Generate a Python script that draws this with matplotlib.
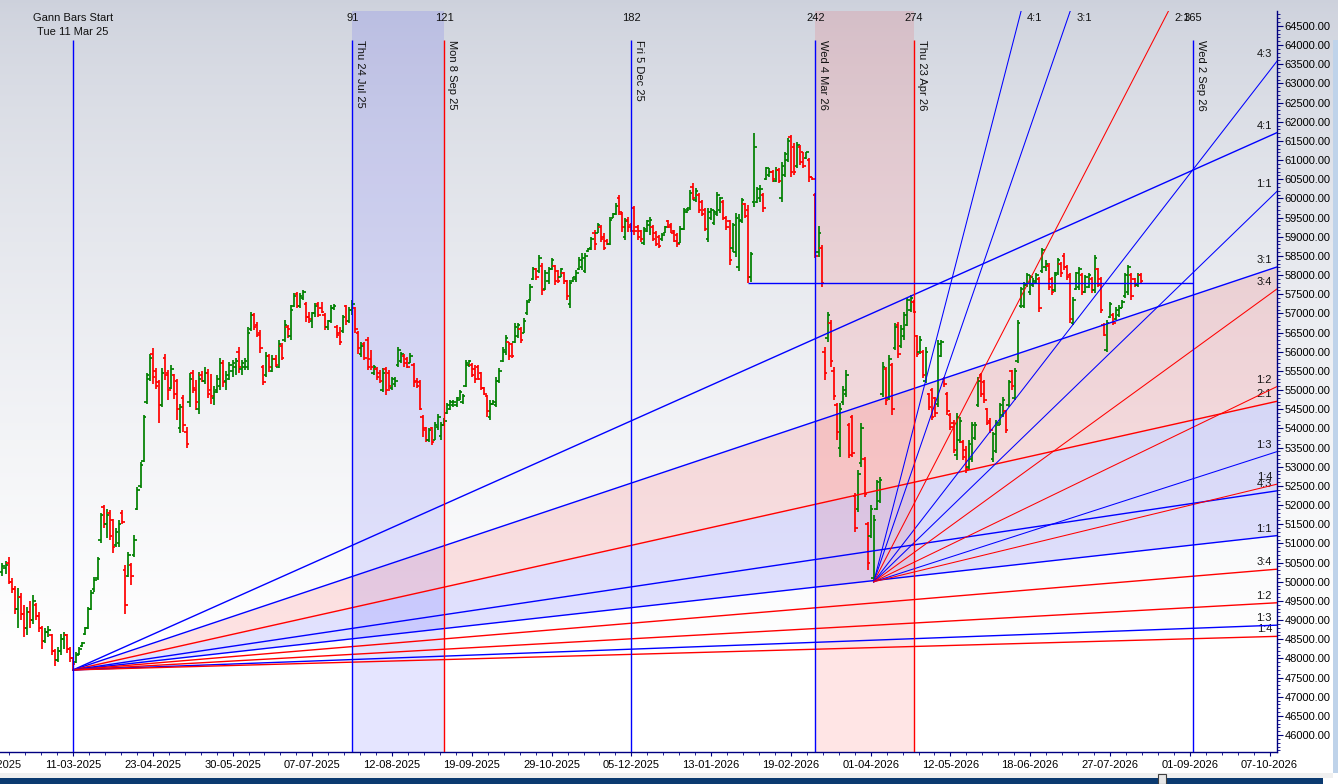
import numpy as np
import matplotlib
matplotlib.use("Agg")
import matplotlib.pyplot as plt
from matplotlib.collections import LineCollection
from matplotlib.patches import Rectangle
from matplotlib.ticker import FixedLocator, MultipleLocator, FormatStrFormatter

plt.rcParams["font.family"] = ["Liberation Sans", "DejaVu Sans"]
plt.rcParams["font.size"] = 8
plt.rcParams["text.color"] = "#111111"

BLUE = "#0000ff"
RED = "#ff0000"
GREEN = "#008000"
NAVY = "#000080"

# ---- price bars, one value per trading bar, first bar is index -23 ----
first_bar = -23
opens = [
    50250, 50350, 50500, 50000, 49800, 49300, 49600, 49150, 48800, 49200, 49000, 49400,
    49100, 48800, 48450, 48700, 48600, 48200, 47950, 48200, 48500, 48600, 48250, 48000,
    47900, 48120, 48320, 48650, 48800, 49300, 49800, 50100, 51100, 51950,
    51500, 51800, 51600, 50950, 51000, 51800, 50300, 50150, 50450, 50700,
    51900, 52500, 53150, 54700, 55300, 55950, 55500, 55200, 54600, 55850,
    55450, 55050, 55400, 55250, 54000, 54800, 53900, 54700, 55450, 55000,
    54500, 55400, 55250, 55450, 55000, 54800, 55000, 55100, 55700, 55250,
    55300, 55500, 55600, 56000, 55550, 55600, 55600, 56600, 56950, 56700,
    56500, 55600, 55400, 55900, 55500, 55800, 55600, 56150, 56300, 56650,
    56400, 57200, 57500, 57200, 57400, 57250, 56900, 56800, 57000, 57250,
    57150, 56950, 56650, 56800, 57150, 56650, 56500, 56550, 57200, 56800,
    57100, 57150, 56500, 55950, 56200, 56300, 55800, 55450, 55550, 55450,
    55000, 55550, 55450, 55050, 55150, 55650, 55750, 55900, 55800, 55700,
    55650, 55250, 55200, 54300, 54000, 53700, 54000, 53700, 54050, 53800,
    54100, 54400, 54500, 54600, 54600, 54750, 54700, 55100, 55650, 55650,
    55550, 55600, 55450, 55050, 54850, 54300, 54650, 54600, 55250, 55750,
    56000, 56250, 56200, 56250, 56400, 56600, 56500, 57000, 57350, 57900,
    58150, 58100, 58250, 57650, 57850, 58150, 58250, 58100, 57950, 58050,
    57850, 57250, 57850, 57900, 58150, 58200, 58100, 58620, 58700, 59100,
    59100, 59250, 59000, 58900, 58800, 59500, 59600, 60000, 59600, 59000,
    59450, 59300, 59750, 59250, 59150, 58850, 59150, 59300, 59250, 59100,
    59000, 58950, 59100, 59400, 59300, 59150, 59050, 58850, 59200, 59650,
    59750, 60300, 59950, 60100, 59900, 59700, 58950, 59500, 59350, 59600,
    59700, 59900, 59500, 59400, 58700, 58600, 58200, 59400, 59850, 59700,
    57950, 59900, 59900, 60000, 60100, 60500, 60600, 60700, 60450, 60750,
    60000, 60600, 61000, 61600, 61350, 60850, 61350, 61200, 61050, 61000,
    60550, 60100, 58600, 58700, 56000, 56350, 56750, 55500, 54600, 53500,
    54700, 54900, 54100, 54300, 52250, 51900, 53100, 53200, 51500, 51200,
    50100, 51900, 52100, 54900, 55550, 54800, 55650, 56100, 56700, 56150,
    56400, 56700, 57100, 57300, 56400, 56000, 56000, 55250, 54900, 55000,
    54800, 54650, 55900, 55300, 54900, 54350, 54150, 53300, 53700, 53650,
    53450, 53000, 53200, 53750, 54600, 55400, 55200, 54500, 54200, 53200,
    53400, 54100, 54350, 54450, 54600, 55500, 54800, 55750, 57200, 57200,
    57750, 57550, 57750, 57800, 57900, 58100, 58200, 58250, 57900, 57600,
    58050, 58300, 58500, 58200, 58000, 56750, 57650, 57700, 58000, 57550,
    57700, 57900, 57600, 58150, 57900, 56700, 56050, 56900, 56950, 56850,
    56950, 57150, 57450, 57550, 58000, 57900, 57750, 58000,
]
highs = [
    50500, 50550, 50650, 50100, 49900, 49850, 49700, 49400, 49350, 49500, 49650, 49450,
    49200, 48850, 48800, 48850, 48650, 48250, 48300, 48650, 48700, 48650, 48300, 48050,
    48175, 48300, 48430, 48820, 49350, 49780, 50130, 50650, 51800, 52000,
    51900, 51870, 51650, 51390, 51600, 51870, 50430, 50780, 50500, 51220,
    52480, 53130, 54350, 55440, 55950, 56100, 55570, 55260, 55570, 55940,
    55520, 55650, 55430, 55300, 54650, 54870, 54040, 55440, 55520, 55260,
    55480, 55500, 55600, 55540, 55430, 55100, 55390, 55830, 55780, 55500,
    55740, 55780, 55830, 56130, 55780, 55830, 56650, 57050, 57000, 56780,
    56570, 55650, 56000, 55950, 55910, 55910, 56310, 56220, 56830, 56700,
    57220, 57530, 57570, 57530, 57610, 57300, 57050, 57050, 57260, 57300,
    57300, 57000, 56830, 57220, 57250, 56700, 56650, 56960, 57220, 57180,
    57350, 57180, 56530, 56250, 56260, 56390, 56050, 55650, 55610, 55520,
    55580, 55610, 55520, 55350, 55350, 56130, 56000, 55950, 55870, 55960,
    55700, 55310, 55260, 54350, 54050, 54010, 54050, 54180, 54390, 54180,
    54270, 54660, 54740, 54740, 54830, 55000, 54910, 55790, 55790, 55700,
    55650, 55650, 55480, 55090, 54870, 54740, 54740, 55350, 55570, 56130,
    56440, 56260, 56220, 56740, 56740, 56650, 56870, 57350, 57780, 58220,
    58180, 58520, 58310, 58130, 58220, 58440, 58260, 58130, 58180, 58090,
    57870, 57870, 57960, 58130, 58480, 58570, 58570, 58700, 59000, 59180,
    59350, 59300, 59090, 58940, 59520, 59620, 59870, 60090, 59650, 59480,
    59520, 59350, 59800, 59300, 59180, 59260, 59440, 59520, 59300, 59150,
    59050, 59100, 59270, 59440, 59350, 59180, 59090, 59270, 59740, 59740,
    60220, 60400, 60270, 60140, 59960, 59740, 59740, 59740, 59700, 60180,
    60050, 59960, 59530, 59440, 59350, 59610, 59600, 60000, 59870, 59830,
    58610, 61720, 60310, 60350, 60140, 60830, 60790, 60740, 60830, 60790,
    60960, 61220, 61570, 61660, 61440, 61480, 61400, 61220, 61220, 61050,
    60570, 60140, 59270, 58790, 56130, 57050, 56830, 55610, 54660, 54660,
    55100, 55530, 54130, 54350, 52310, 52920, 54130, 53260, 51570, 52000,
    51740, 52660, 52740, 55740, 55610, 55920, 55700, 56740, 56790, 56700,
    57050, 57400, 57480, 57350, 56440, 56400, 56050, 56130, 54920, 55050,
    54830, 56310, 56310, 55350, 54960, 54400, 54220, 54400, 54310, 53700,
    53530, 53700, 54180, 54180, 55350, 55440, 55260, 54530, 54260, 53920,
    54220, 54660, 54830, 54480, 55260, 55530, 55570, 56830, 57700, 57830,
    58050, 58000, 57920, 58050, 57960, 58700, 58400, 58310, 57960, 58090,
    58440, 58350, 58570, 58270, 58050, 57440, 58090, 58220, 58050, 58000,
    58050, 57960, 58530, 58180, 57960, 56740, 56830, 57310, 57000, 57180,
    57220, 57350, 58050, 58260, 58050, 57920, 58050, 58050,
]
lows = [
    50150, 50200, 49950, 49700, 49150, 48800, 49000, 48550, 48600, 48800, 48900, 49000,
    48700, 48250, 48400, 48550, 48100, 47800, 47900, 48100, 48250, 48150, 47900, 47700,
    47870, 48090, 48300, 48610, 48780, 49260, 49740, 50040, 51000, 51390,
    51150, 51090, 50740, 50920, 50900, 51520, 49170, 50130, 49910, 50650,
    51870, 52440, 53130, 54650, 55250, 55150, 55040, 54130, 54570, 55260,
    54740, 55040, 54780, 54220, 53870, 53920, 53480, 54570, 54920, 54480,
    54390, 55200, 55150, 54790, 54650, 54600, 54920, 55000, 55090, 55000,
    55260, 55350, 55400, 55440, 55400, 55530, 55520, 56550, 56570, 56390,
    55960, 55130, 55350, 55480, 55480, 55610, 55570, 55780, 56260, 56350,
    56300, 57180, 57130, 57150, 57350, 56790, 56740, 56610, 56920, 56920,
    57000, 56570, 56570, 56740, 57100, 56350, 56180, 56500, 56700, 56740,
    56950, 56480, 55950, 55870, 55790, 55520, 55520, 55400, 55260, 55180,
    54960, 54870, 54980, 55000, 55090, 55610, 55700, 55600, 55570, 55700,
    55090, 55050, 54470, 53780, 53650, 53650, 53570, 53700, 53960, 53700,
    54100, 54390, 54480, 54570, 54570, 54740, 54650, 55090, 55610, 55350,
    55180, 55260, 55000, 54870, 54310, 54220, 54600, 54570, 55180, 55740,
    55910, 55790, 55830, 56220, 56350, 56220, 56480, 56960, 57330, 57870,
    57870, 58050, 57480, 57610, 57780, 58130, 57740, 57790, 57940, 57780,
    57350, 57130, 57830, 57830, 58130, 58130, 58050, 58610, 58650, 58650,
    59090, 58870, 58650, 58780, 58790, 59480, 59570, 59570, 59130, 58920,
    59130, 59130, 59050, 58920, 58870, 58790, 59130, 59050, 58900, 58750,
    58700, 58900, 59090, 59220, 59090, 58870, 58740, 58830, 59180, 59610,
    59700, 59960, 59920, 59610, 59530, 59140, 58870, 59440, 59310, 59530,
    59610, 59440, 59180, 58270, 58610, 58480, 58100, 59350, 59480, 57800,
    57830, 59780, 59870, 59920, 59660, 60480, 60570, 60440, 60440, 60400,
    59920, 60570, 60960, 60570, 60610, 60790, 60870, 60790, 61040, 60440,
    60480, 58450, 58480, 57700, 55270, 56260, 55610, 54740, 53700, 53260,
    54600, 54830, 53220, 53260, 51310, 51830, 53000, 52220, 50310, 51130,
    50000, 51870, 52050, 54830, 54610, 54740, 54350, 56050, 55830, 56100,
    56310, 56660, 57050, 57000, 55870, 55950, 55310, 55180, 54480, 54220,
    54310, 54570, 55870, 55090, 54350, 53960, 53350, 53180, 53610, 53180,
    52830, 52920, 53130, 53700, 54570, 54830, 54660, 54090, 53870, 53130,
    53350, 54090, 54310, 53870, 54570, 55000, 54740, 55700, 57130, 57130,
    57700, 57480, 57700, 57790, 57050, 58050, 58100, 57610, 57480, 57570,
    58000, 57960, 58130, 57870, 56740, 56700, 57610, 57610, 57480, 57530,
    57660, 57530, 57530, 57700, 57000, 56400, 56000, 56870, 56700, 56830,
    56920, 57130, 57400, 57480, 57350, 57700, 57700, 57790,
]
closes = [
    50400, 50450, 50000, 49800, 49300, 49600, 49150, 48800, 49200, 49000, 49500, 49100,
    48800, 48450, 48700, 48750, 48200, 47950, 48200, 48500, 48600, 48250, 48000, 47850,
    48100, 48250, 48400, 48800, 49300, 49700, 50050, 50600, 51750, 51500,
    51750, 51200, 50900, 51300, 51500, 51550, 49400, 50700, 50150, 51100,
    52400, 53050, 54300, 55400, 55850, 55350, 55100, 54600, 55450, 55400,
    55000, 55550, 54900, 54500, 54550, 54100, 53600, 55300, 55050, 54700,
    55300, 55250, 55450, 54900, 54850, 54950, 55300, 55700, 55200, 55400,
    55650, 55700, 55750, 55600, 55700, 55750, 56500, 56950, 56650, 56450,
    56100, 55200, 55900, 55600, 55800, 55650, 56200, 55850, 56700, 56600,
    57100, 57450, 57200, 57450, 57550, 56900, 56850, 57000, 57200, 56950,
    57050, 56650, 56800, 57150, 57200, 56450, 56250, 56900, 56800, 57100,
    57250, 56600, 56100, 56150, 55850, 55600, 55600, 55600, 55350, 55250,
    55450, 55000, 55100, 55300, 55250, 56050, 55950, 55700, 55600, 55900,
    55200, 55100, 54500, 53950, 53700, 53950, 53650, 54100, 54300, 54100,
    54200, 54600, 54700, 54700, 54800, 54950, 54850, 55700, 55750, 55400,
    55300, 55300, 55050, 54900, 54450, 54650, 54700, 55250, 55500, 56050,
    56350, 55900, 55900, 56650, 56700, 56300, 56800, 57300, 57700, 58150,
    57950, 58450, 57600, 58050, 58150, 58400, 57850, 57850, 58150, 57850,
    57450, 57800, 57950, 58050, 58400, 58450, 58500, 58680, 58950, 58800,
    59300, 58950, 58700, 58800, 59450, 59600, 59800, 59650, 59250, 59400,
    59250, 59150, 59150, 59000, 58950, 59200, 59400, 59450, 58950, 58800,
    58750, 59050, 59250, 59250, 59100, 58900, 58800, 59200, 59700, 59700,
    60150, 60000, 60200, 59700, 59600, 59200, 59650, 59700, 59650, 60100,
    60000, 59500, 59250, 58400, 59300, 59500, 59450, 59950, 59550, 57950,
    58550, 61350, 60250, 60250, 59750, 60800, 60700, 60500, 60750, 60450,
    60850, 61150, 61500, 60700, 60700, 61400, 60950, 60850, 61200, 60550,
    60500, 58500, 59100, 57800, 55450, 56950, 55750, 54850, 53900, 54500,
    55000, 55400, 53300, 53350, 51400, 52800, 54000, 52300, 50500, 51900,
    51600, 52600, 52650, 55600, 54750, 55800, 54500, 56650, 55950, 56600,
    56950, 57350, 57400, 57050, 55950, 56300, 55400, 56000, 54550, 54300,
    54400, 56200, 56250, 55150, 54450, 54050, 53450, 54300, 54200, 53250,
    52950, 53600, 54100, 54100, 55250, 54900, 54750, 54150, 53950, 53850,
    54150, 54600, 54750, 53950, 55200, 55100, 55500, 56750, 57650, 57750,
    58000, 57950, 57850, 58000, 57150, 58650, 58300, 57700, 57550, 58000,
    58400, 58050, 58200, 57950, 56850, 57350, 58050, 58150, 57550, 57950,
    58000, 57600, 58450, 57750, 57100, 56450, 56750, 57250, 56750, 57100,
    57150, 57300, 58000, 58200, 57450, 57750, 58000, 57850,
]

# ---- time axis labels (every 26 bars) ----
date_ticks = [-26, 0, 26, 52, 78, 104, 130, 156, 182, 208, 234, 260, 286, 312, 338, 364, 390]
date_labels = ["31-01-2025", "11-03-2025", "23-04-2025", "30-05-2025", "07-07-2025",
               "12-08-2025", "19-09-2025", "29-10-2025", "05-12-2025", "13-01-2026",
               "19-02-2026", "01-04-2026", "12-05-2026", "18-06-2026", "27-07-2026",
               "01-09-2026", "07-10-2026"]

# ---- Gann bar counts ----
event_bars = [0, 91, 121, 182, 242, 274, 365]
event_counts = ["", "91", "121", "182", "242", "274", "365"]
event_dates = ["Tue 11 Mar 25", "Thu 24 Jul 25", "Mon 8 Sep 25", "Fri 5 Dec 25",
               "Wed 4 Mar 26", "Thu 23 Apr 26", "Wed 2 Sep 26"]
event_colors = [BLUE, BLUE, RED, BLUE, BLUE, RED, BLUE]
shaded_spans = [(91, 121, BLUE), (242, 274, RED)]

# ---- Gann fans: origin bar, origin price, price per bar of the 1:1 line ----
fan_origins = [(0, 47700, 8.93), (261, 50000, 77.5)]
fan_widths = [1.0, 0.75]
fan_ratios = [4, 3, 2, 4 / 3, 1, 3 / 4, 1 / 2, 1 / 3, 1 / 4]
fan_names = ["4:1", "3:1", "2:1", "4:3", "1:1", "3:4", "1:2", "1:3", "1:4"]
fan_colors = [BLUE, BLUE, RED, BLUE, BLUE, RED, RED, BLUE, RED]

level_price = 57800
level_start, level_end = 220, 365

x_left, x_right = -23.8, 392.44
y_bottom, y_top = 45559, 64891

W, H = 1338, 784
fig = plt.figure(figsize=(W / 100, H / 100), dpi=100)

# gradient background
bg = fig.add_axes([0, 0, 1, 1], zorder=-10)
t = np.clip(np.arange(H) / 650.0, 0, 1) ** 0.7
top_col = np.array([205, 209, 220]) / 255.0
grad = top_col + (1 - top_col) * t[:, None]
bg.imshow(grad[:, None, :], aspect="auto", extent=[0, 1, 0, 1])
bg.axis("off")

ax = fig.add_axes([0, 32 / H, 1277 / W, 741 / H])
ax.set_facecolor("none")
ax.set_xlim(x_left, x_right)
ax.set_ylim(y_bottom, y_top)

for a, b, col in shaded_spans:
    ax.axvspan(a, b, color=col, alpha=0.1, lw=0, zorder=1)

# fan fills (first fan only)
ob, op, unit = fan_origins[0]
xs = np.array([ob, x_right])
ax.fill_between(xs, op + unit * 3 * (xs - ob), op + unit * 2 * (xs - ob),
                color=RED, alpha=0.11, lw=0, zorder=1)
ax.fill_between(xs, op + unit * 2 * (xs - ob), op + unit * 1 * (xs - ob),
                color=BLUE, alpha=0.11, lw=0, zorder=1)

# price bars
n = min(len(opens), len(highs), len(lows), len(closes))
segs, cols = [], []
for i in range(n):
    x = first_bar + i
    col = GREEN if closes[i] >= opens[i] else RED
    segs += [[(x, lows[i]), (x, highs[i])],
             [(x - 0.8, opens[i]), (x, opens[i])],
             [(x, closes[i]), (x + 0.8, closes[i])]]
    cols += [col, col, col]
ax.add_collection(LineCollection(segs, colors=cols, linewidths=1.25, zorder=3))

# bar-count verticals
line_top = y_top - 29 * (y_top - y_bottom) / 741
for bar, cnt, dt, col in zip(event_bars, event_counts, event_dates, event_colors):
    ax.vlines(bar, y_bottom, line_top, color=col, lw=1.0, zorder=5)
    if cnt:
        ax.annotate(cnt, xy=(bar, H - 18), xycoords=("data", "figure pixels"),
                    ha="center", va="center", annotation_clip=False)
        ax.annotate(dt, xy=(bar, H - 40), xycoords=("data", "figure pixels"),
                    xytext=(3, 0), textcoords="offset pixels", rotation=-90,
                    ha="left", va="top", annotation_clip=False)
ax.annotate("Gann Bars Start", xy=(0, H - 18), xycoords=("data", "figure pixels"),
            ha="center", va="center", annotation_clip=False)
ax.annotate(event_dates[0], xy=(0, H - 32), xycoords=("data", "figure pixels"),
            ha="center", va="center", annotation_clip=False)

# fan lines and their labels
for (ob, op, unit), lw in zip(fan_origins, fan_widths):
    for ratio, name, col in zip(fan_ratios, fan_names, fan_colors):
        end = op + unit * ratio * (x_right - ob)
        ax.plot([ob, x_right], [op, end], color=col, lw=lw, zorder=4)
        if end < y_top:
            ax.annotate(name, xy=(x_right, end), xytext=(-5, 2),
                        textcoords="offset pixels", ha="right", va="bottom")
        else:
            x_exit = ob + (y_top - op) / (unit * ratio)
            ax.annotate(name, xy=(x_exit, H - 18), xycoords=("data", "figure pixels"),
                        xytext=(6, 0), textcoords="offset pixels",
                        ha="left", va="center", annotation_clip=False)

ax.hlines(level_price, level_start, level_end, color=BLUE, lw=1.0, zorder=5)

# axes styling
for s in ("left", "top"):
    ax.spines[s].set_visible(False)
for s in ("right", "bottom"):
    ax.spines[s].set_color(NAVY)
    ax.spines[s].set_linewidth(1.0)

ax.yaxis.tick_right()
ax.yaxis.set_major_locator(MultipleLocator(500))
ax.yaxis.set_minor_locator(MultipleLocator(100))
ax.yaxis.set_major_formatter(FormatStrFormatter("%.2f"))
ax.xaxis.set_major_locator(FixedLocator(date_ticks))
ax.set_xticklabels(date_labels)
ax.xaxis.set_minor_locator(MultipleLocator(5.2))
ax.tick_params(axis="y", which="major", length=4, width=0.8, color=NAVY, pad=1.5,
               labelsize=8)
ax.tick_params(axis="y", which="minor", length=2, width=0.6, color=NAVY)
ax.tick_params(axis="x", which="major", length=3, width=0.8, color=NAVY, pad=2.5,
               labelsize=8)
ax.tick_params(axis="x", which="minor", length=2, width=0.6, color=NAVY)
# label of the tick just left of the visible range
ax.annotate(date_labels[0], xy=(date_ticks[0], 0), xycoords=("data", "axes fraction"),
            xytext=(0, -7.7), textcoords="offset pixels", ha="center", va="top",
            fontsize=8, annotation_clip=False)


# window scroll bars
def px_rect(x0, y0, x1, y1, **kw):
    fig.add_artist(Rectangle((x0 / W, 1 - y1 / H), (x1 - x0) / W, (y1 - y0) / H,
                             transform=fig.transFigure, **kw))


px_rect(0, 773, 1333, 778, facecolor="#f0f0f0", edgecolor="none")
px_rect(0, 778, 1323, 784, facecolor="#0b3a70", edgecolor="none")
px_rect(1158, 774, 1166, 784, facecolor="#e6e6e6", edgecolor="#404040", lw=0.8)
px_rect(1333, 40, 1338, 773, facecolor="#bfd3ea", edgecolor="none")

fig.savefig("out.png", dpi=100)
